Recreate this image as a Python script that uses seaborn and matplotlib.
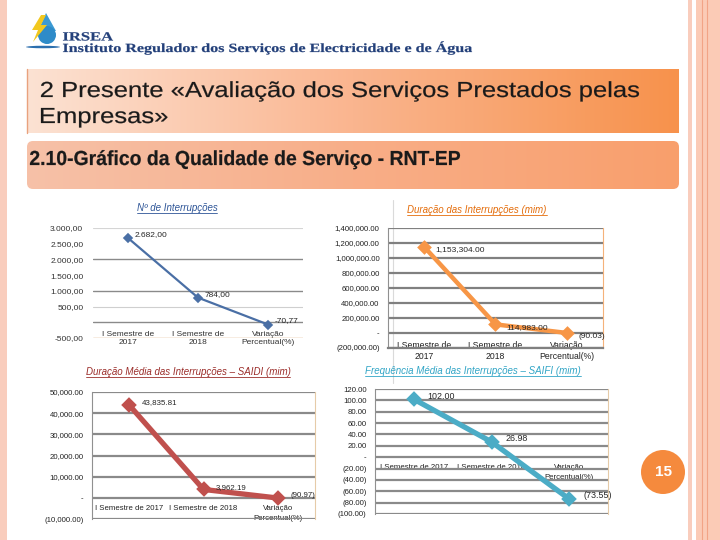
import numpy as np
import seaborn as sns
import matplotlib.pyplot as plt
from matplotlib.patches import Rectangle, FancyBboxPatch, Polygon, Ellipse, Circle, PathPatch
from matplotlib.lines import Line2D
from matplotlib.ticker import FuncFormatter
from matplotlib.colors import LinearSegmentedColormap
from matplotlib.textpath import TextPath
from matplotlib.font_manager import FontProperties
from matplotlib.transforms import Affine2D

sns.set_style('white')
plt.rcParams['font.family'] = ['Liberation Sans Narrow', 'Liberation Sans', 'DejaVu Sans']

# data
categorias = ['I Semestre de 2017', 'I Semestre de 2018', 'Variação Percentual(%)']
n_interrupcoes = [2682.00, 784.00, -70.77]
duracao_interrupcoes = [1153304.00, 114983.00, -90.03]
saidi = [43835.81, 3962.19, -90.97]
saifi = [102.00, 26.98, -73.55]

rotulos_cat_2linhas = ['I Semestre de\n2017', 'I Semestre de\n2018', 'Variação\nPercentual(%)']
rotulos_cat_1linha = ['I Semestre de 2017', 'I Semestre de 2018', 'Variação\nPercentual(%)']

W, H = 720, 540
fig = plt.figure(figsize=(7.2, 5.4), dpi=100)

# slide decoration, pixel coords
bg = fig.add_axes([0, 0, 1, 1])
bg.set_xlim(0, W)
bg.set_ylim(H, 0)
bg.axis('off')


def texto_esticado(s, x, base, cap, largura=None, sx=None, family='Liberation Sans',
                   weight='normal', cor='#1a1a1a', z=4):
    # slide text is stretched sideways, so draw it as a scaled text path
    fp = FontProperties(family=family, weight=weight)
    tp = TextPath((0, 0), s, size=100, prop=fp)
    ext = tp.get_extents()
    hcap = TextPath((0, 0), 'H', size=100, prop=fp).get_extents().height
    sy = cap / hcap
    if sx is None:
        sx = largura / ext.width if largura else sy
    tr = Affine2D().translate(-ext.x0, 0).scale(sx, -sy).translate(x, base) + bg.transData
    bg.add_patch(PathPatch(tp, transform=tr, facecolor=cor, edgecolor=cor, lw=0.15, zorder=z))
    return sx


pink = '#F9CDBD'
bg.add_patch(Rectangle((0, 0), 7, H, color=pink, lw=0))
bg.add_patch(Rectangle((688, 0), 4, H, color=pink, lw=0))
bg.add_patch(Rectangle((696, 0), 24, H, color='#FBCBB6', lw=0))
bg.add_line(Line2D([702, 702], [0, H], color='#F2A486', lw=0.8))
bg.add_line(Line2D([707, 707], [0, H], color='#F2A486', lw=0.8))

grad = np.linspace(0, 1, 256).reshape(1, -1)

# banner 1
cm1 = LinearSegmentedColormap.from_list('b1', ['#FCE2D3', '#FAB58F', '#F7924C'])
bg.imshow(grad, extent=(27, 679, 133, 69), cmap=cm1, aspect='auto', zorder=1)
bg.add_line(Line2D([27, 27], [69, 133], color='#E9A27E', lw=1, zorder=2))
sx1 = texto_esticado('2 Presente «Avaliação dos Serviços Prestados pelas', 41, 97, 15, largura=598)
texto_esticado('Empresas»', 41, 123, 15, sx=sx1)

# banner 2
box2 = FancyBboxPatch((27, 141), 652, 48, boxstyle='round,pad=0,rounding_size=6',
                      facecolor='none', edgecolor='none', zorder=1)
bg.add_patch(box2)
cm2 = LinearSegmentedColormap.from_list('b2', ['#F6C1A8', '#F8AE88', '#F99F6C'])
im2 = bg.imshow(grad, extent=(27, 679, 189, 141), cmap=cm2, aspect='auto', zorder=1)
im2.set_clip_path(box2)
texto_esticado('2.10-Gráfico da Qualidade de Serviço - RNT-EP', 30, 165, 14, largura=430,
               weight='bold')

# logo
bg.add_patch(Polygon([[46, 13], [38, 31], [56, 31]], closed=True, facecolor='#3B9AD3',
                     edgecolor='none', zorder=2))
bg.add_patch(Circle((47, 35), 9, facecolor='#2E8BC8', edgecolor='none', zorder=2))
bg.add_patch(Polygon([[41, 15], [32, 30], [38, 30], [33, 42], [47, 25], [41, 25], [46, 15]],
                     closed=True, facecolor='#F2C81E', edgecolor='none', zorder=3))
bg.add_patch(Ellipse((43, 47), 34, 2.5, facecolor='#2C6FAE', edgecolor='none', zorder=2))
texto_esticado('IRSEA', 63, 40.5, 8.2, largura=50, family='Liberation Serif', weight='bold',
               cor='#23407A')
texto_esticado('Instituto Regulador dos Serviços de Electricidade e de Água', 63, 52, 8.2,
               largura=409, family='Liberation Serif', weight='bold', cor='#23407A')

# page number
bg.add_patch(Circle((663, 472), 22, facecolor='#F58A3D', edgecolor='none'))
bg.text(663, 472, '15', fontsize=11, fontweight='bold', color='white', ha='center', va='center',
        family=['Liberation Sans', 'DejaVu Sans'])

bg.add_line(Line2D([393, 393], [200, 383], color='#DADADA', lw=0.8))


def add_ax(x0, x1, y0, y1):
    return fig.add_axes([x0 / W, 1 - y1 / H, (x1 - x0) / W, (y1 - y0) / H])


def fmt_pt(v, pos=None):
    if abs(v) < 1e-9:
        return ''
    s = f'{v:,.2f}'
    return s.replace(',', 'X').replace('.', ',').replace('X', '.')


def fmt_acc(v, pos=None):
    if abs(v) < 1e-9:
        return '-'
    s = f'{abs(v):,.2f}'
    return f'({s})' if v < 0 else s


def titulo(x, y, texto, cor):
    return fig.text(x / W, 1 - y / H, texto, fontsize=7, style='italic', color=cor,
                    ha='center', va='center')


def linha(ax, vals, cor, lw, ms):
    sns.pointplot(x=categorias, y=vals, ax=ax, color=cor, markers='D', linestyles='-',
                  errorbar=None, linewidth=lw, markersize=ms)
    ax.set_xlim(-0.5, 2.5)
    ax.set_xlabel('')
    ax.set_ylabel('')
    ax.set_facecolor('none')


tick_fs = 5.6
lab_fs = 6

# Chart 1: Nº de Interrupções
ax1 = add_ax(93, 303, 228, 338)
linha(ax1, n_interrupcoes, '#4A6FA5', 1.6, 4)
ax1.set_ylim(-500, 3000)
ax1.set_yticks(np.arange(-500, 3001, 500))
ax1.yaxis.set_major_formatter(FuncFormatter(fmt_pt))
for v in [2000, 1000, 0]:
    ax1.axhline(v, color='#8A8A8A', lw=1.0, zorder=0)
ax1.axhline(500, color='#CFCFCF', lw=0.8, zorder=0)
ax1.axhline(3000, color='#D5D5D5', lw=0.8, zorder=0)
ax1.axhline(-500, color='#D9A06A', lw=1.0, zorder=0)
for s in ['top', 'right', 'left']:
    ax1.spines[s].set_visible(False)
ax1.spines['bottom'].set_position(('data', 0))
ax1.spines['bottom'].set_visible(False)
ax1.set_xticks(range(3))
ax1.set_xticklabels(rotulos_cat_2linhas, fontsize=6, color='#333333', linespacing=1.2)
ax1.tick_params(axis='both', length=0, pad=6)
ax1.tick_params(axis='y', labelsize=6, labelcolor='#333333', pad=7)
for i, v in enumerate(n_interrupcoes):
    rot = fmt_pt(v) if v > 0 else f'-{abs(v):.2f}'.replace('.', ',')
    ax1.annotate(rot, (i, v), xytext=(5, 0), textcoords='offset points', fontsize=lab_fs, va='bottom')
titulo(177, 208, 'Nº de Interrupções', '#2E5597')

# Chart 2: Duração das Interrupções
ax2 = add_ax(388, 603, 228, 348)
linha(ax2, duracao_interrupcoes, '#F79646', 3.2, 5)
ax2.set_ylim(-200000, 1400000)
ax2.set_yticks(np.arange(-200000, 1400001, 200000))
ax2.yaxis.set_major_formatter(FuncFormatter(fmt_acc))
ax2.grid(axis='y', color='#808080', lw=1.6)
ax2.set_axisbelow(True)
ax2.spines['top'].set_visible(False)
ax2.spines['right'].set_color('#F5B27A')
ax2.spines['right'].set_linewidth(0.8)
ax2.spines['left'].set_color('#909090')
ax2.spines['bottom'].set_color('#808080')
ax2.spines['bottom'].set_linewidth(1.6)
ax2.set_xticks(range(3))
ax2.set_xticklabels(rotulos_cat_2linhas, fontsize=6.2, color='#222222', linespacing=1.25)
ax2.tick_params(axis='x', length=0, pad=-5)
ax2.tick_params(axis='y', length=0, labelsize=tick_fs, labelcolor='#222222', pad=6)
for lbl in ax2.get_xticklabels():
    lbl.set_bbox(dict(facecolor='white', edgecolor='none', pad=0.3))
rot2 = ['1,153,304.00', '114,983.00', '(90.03)']
for i, (v, r) in enumerate(zip(duracao_interrupcoes, rot2)):
    ax2.annotate(r, (i, v), xytext=(8, -5), textcoords='offset points', fontsize=lab_fs, va='bottom')
titulo(477, 210, 'Duração das Interrupções (mim)', '#E46C0A')

# Chart 3: SAIDI
ax3 = add_ax(92, 315, 392, 519)
linha(ax3, saidi, '#C0504D', 3.8, 5.5)
ax3.set_ylim(-10000, 50000)
ax3.set_yticks(np.arange(-10000, 50001, 10000))
ax3.yaxis.set_major_formatter(FuncFormatter(fmt_acc))
ax3.grid(axis='y', color='#8A8A8A', lw=1.6)
ax3.set_axisbelow(True)
ax3.spines['top'].set_visible(False)
ax3.spines['right'].set_color('#E6CBA8')
ax3.spines['right'].set_linewidth(0.8)
ax3.spines['left'].set_color('#909090')
ax3.spines['bottom'].set_position(('data', 0))
ax3.spines['bottom'].set_visible(False)
ax3.set_xticks(range(3))
ax3.set_xticklabels(rotulos_cat_1linha, fontsize=tick_fs, color='#222222', linespacing=1.6)
ax3.tick_params(axis='both', length=0, pad=5)
ax3.tick_params(axis='y', labelsize=tick_fs, labelcolor='#222222', pad=6)
rot3 = ['43,835.81', '3,962.19', '(90.97)']
for i, (v, r) in enumerate(zip(saidi, rot3)):
    ax3.annotate(r, (i, v), xytext=(9, -1), textcoords='offset points', fontsize=lab_fs - 0.3, va='bottom')
titulo(188, 372, 'Duração Média das Interrupções – SAIDI (mim)', '#9B2D2A')

# Chart 4: SAIFI
ax4 = add_ax(375, 608, 389, 514)
linha(ax4, saifi, '#4BACC6', 3.8, 5.5)
ax4.set_ylim(-100, 120)
ax4.set_yticks(np.arange(-100, 121, 20))
ax4.yaxis.set_major_formatter(FuncFormatter(fmt_acc))
ax4.grid(axis='y', color='#8A8A8A', lw=1.6)
ax4.set_axisbelow(True)
ax4.spines['top'].set_visible(False)
ax4.spines['right'].set_color('#E6CBA8')
ax4.spines['right'].set_linewidth(0.8)
ax4.spines['left'].set_color('#909090')
ax4.spines['bottom'].set_position(('data', 0))
ax4.spines['bottom'].set_visible(False)
ax4.set_xticks(range(3))
ax4.set_xticklabels(rotulos_cat_1linha, fontsize=tick_fs, color='#222222', linespacing=1.6)
ax4.tick_params(axis='both', length=0, pad=5)
ax4.tick_params(axis='y', labelsize=tick_fs, labelcolor='#222222', pad=6)
rot4 = ['102.00', '26.98', '(73.55)']
for i, (v, r) in enumerate(zip(saifi, rot4)):
    ax4.annotate(r, (i, v), xytext=(10, -1), textcoords='offset points', fontsize=lab_fs + 0.4, va='bottom')
titulo(473, 371, 'Frequência Média das Interrupções – SAIFI (mim)', '#31A5C6')

# underline chart titles
fig.canvas.draw()
r = fig.canvas.get_renderer()
for t in fig.texts:
    bb = t.get_window_extent(r)
    y = (bb.y0 + 0.5) / H
    fig.add_artist(Line2D([bb.x0 / W, bb.x1 / W], [y, y], color=t.get_color(), lw=0.6))

fig.savefig('out.png', dpi=100)
